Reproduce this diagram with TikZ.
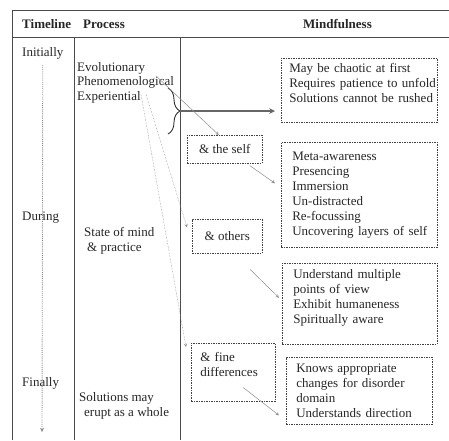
\documentclass[tikz,border=0pt]{standalone}
\usepackage{fontspec}
\setmainfont{Liberation Serif}
\usetikzlibrary{decorations.pathreplacing}
\tikzset{>=stealth}
\newcommand{\bodyfont}{\fontsize{13}{15}\selectfont}

\begin{document}
\begin{tikzpicture}[x=1pt,y=-1pt,
    every node/.style={font=\bodyfont, text=black!85},
    tablerule/.style={draw=black!70, line width=0.9pt},
    celltext/.style={anchor=west, inner sep=0pt, align=left},
    boxline/.style={draw=black!75, line width=0.6pt, dash pattern=on 1.5pt off 1pt},
    mindbox/.style={boxline, anchor=north west, align=left, inner ysep=0pt},
    tagbox/.style={boxline, anchor=north west, inner sep=0pt, align=center},
    link/.style={->, draw=black!45, line width=0.5pt},
    farlink/.style={link, densely dotted},
    bigarrow/.style={->, draw=black!60, line width=1.5pt},
    timeflow/.style={->, draw=black!45, line width=0.9pt, densely dotted},
  ]
    \useasboundingbox (0,0) rectangle (449,440);
    % table frame
    \draw[tablerule] (12,440) -- (12,10) -- (449,10);
    \draw[tablerule] (12,37) -- (449,37);
    \draw[tablerule] (74,37) -- (74,440);
    \draw[tablerule] (180,37) -- (180,440);
    % header
    \node[celltext] (hdtime) at (22,24) {\bfseries Timeline};
    \node[celltext] (hdproc) at (83,24) {\bfseries Process};
    \node[inner sep=0pt] (hdmind) at (337.5,24) {\bfseries Mindfulness};
    % timeline column
    \node[celltext] (initially) at (22,53) {Initially};
    \node[celltext] (during) at (22,218) {During};
    \node[celltext] (finally) at (22,383) {Finally};
    \coordinate (timeend) at (42,432);
    \draw[timeflow] ([yshift=-6pt]initially.south) -- (timeend);
    % process column
    \node[celltext] (evol) at (77,68) {Evolutionary};
    \node[celltext] (phenom) at (77,82) {Phenomenological};
    \node[celltext] (exper) at (77,97) {Experiential};
    \node[celltext] (practice) at (84,240.5) {State of mind\\\hspace{3pt}\& practice};
    \node[celltext] (erupt) at (79,405.5) {Solutions may\\\hspace{5pt}erupt as a whole};
    % brace and main arrow
    \draw[black!80, line width=0.9pt, decorate, decoration={brace, amplitude=12pt}] (168,88) -- (168,134);
    \coordinate (bracetip) at (180,111);
    % mindfulness column
    \node[mindbox, minimum width=156pt, minimum height=64pt, text width=140pt, inner xsep=8pt] (chaos) at (281,58)
      {\mbox{May be chaotic at first}\\\mbox{Requires patience to unfold}\\\mbox{Solutions cannot be rushed}\\ \mbox{}};
    \node[tagbox, minimum width=75pt, minimum height=28pt] (self) at (187,135) {\& the self};
    \node[mindbox, minimum width=156pt, minimum height=105pt, text width=134pt, inner xsep=11pt] (traits) at (281,142)
      {Meta-awareness\\Presencing\\Immersion\\Un-distracted\\Re-focussing\\\mbox{Uncovering layers of self}};
    \node[tagbox, minimum width=70pt, minimum height=34pt] (others) at (192,219) {\& others};
    \node[mindbox, minimum width=155pt, minimum height=81pt, text width=133pt, inner xsep=11pt] (views) at (282,263)
      {Understand multiple\\points of view\\Exhibit humaneness\\Spiritually aware\\ \mbox{}};
    \node[mindbox, minimum width=84pt, minimum height=58pt, text width=66pt, inner xsep=9pt] (fine) at (191,343)
      {\& fine\\differences\\ \mbox{}};
    \node[mindbox, minimum width=146pt, minimum height=67pt, text width=126pt, inner xsep=10pt] (domain) at (286,357)
      {Knows appropriate\\changes for disorder\\domain\\\mbox{Understands direction}};
    % connectors
    \draw[bigarrow] (bracetip) -- ([xshift=-6pt]bracetip -| chaos.west);
    \draw[link] ([xshift=80pt,yshift=-1pt]phenom.north west) -- ([xshift=-6pt]self.north);
    \draw[link] ([xshift=25pt,yshift=-2pt]self.south) -- ([xshift=-6pt,yshift=11.5pt]traits.west);
    \draw[link] ([xshift=23pt,yshift=-16pt]others.south) -- ([xshift=-3pt,yshift=6pt]views.west);
    \draw[link] ([xshift=10pt,yshift=14pt]fine.south) -- ([xshift=-7pt,yshift=-24.5pt]domain.west);
    \draw[farlink] ([xshift=5pt,yshift=-3pt]exper.north east) -- ([xshift=-5pt,yshift=9pt]others.west);
    \draw[farlink] ([yshift=-3pt]exper.north east) -- ([xshift=-5pt,yshift=-4pt]fine.north west);
\end{tikzpicture}
\end{document}
